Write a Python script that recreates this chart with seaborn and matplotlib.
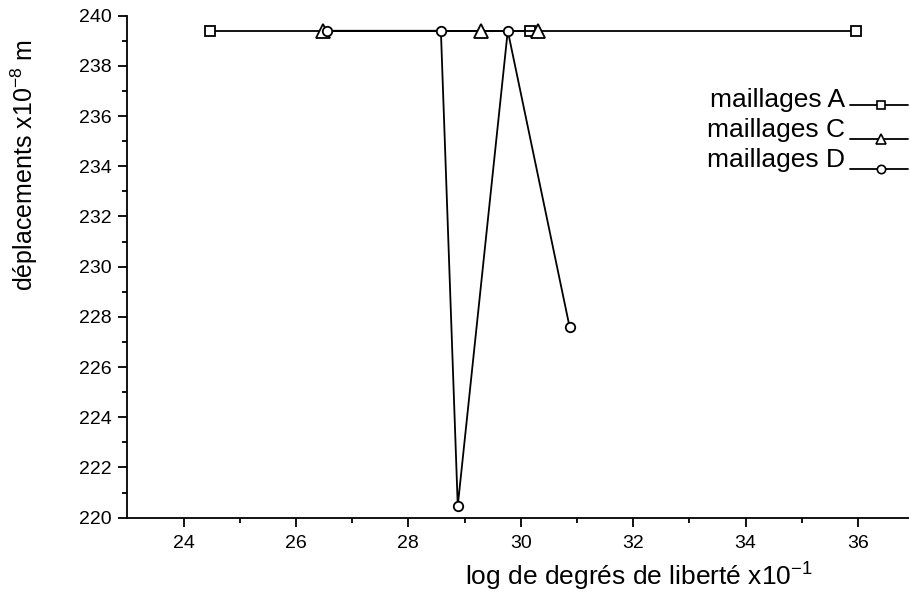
import matplotlib
matplotlib.use("Agg")
import matplotlib.pyplot as plt
import seaborn as sns
import pandas as pd
from matplotlib.lines import Line2D

# ---- data ----
xa = [24.48, 30.17, 35.97]
ya = [239.4, 239.4, 239.4]
xc = [26.48, 29.29, 30.30]
yc = [239.4, 239.4, 239.4]
xd = [26.56, 28.58, 28.88, 29.77, 30.87]
yd = [239.4, 239.4, 220.47, 239.4, 227.6]
labels = ["maillages A", "maillages C", "maillages D"]
markers = ["s", "^", "o"]
xticks = [24, 26, 28, 30, 32, 34, 36]
yticks = [220, 222, 224, 226, 228, 230, 232, 234, 236, 238, 240]

sns.set_theme(style="white")
plt.rcParams["font.family"] = ["Liberation Sans", "DejaVu Sans"]
plt.rcParams["mathtext.default"] = "regular"

fig = plt.figure(figsize=(9.09, 5.95), dpi=100)
W, H = 909, 595
ax = fig.add_axes([127.3 / W, 1 - 517.7 / H, (909 - 127.3) / W, (517.7 - 15.7) / H])

series = [(xa, ya), (xc, yc), (xd, yd)]
msizes = [6.5, 9.5, 6.8]
for (xs, ys), lab, mk, ms in zip(series, labels, markers, msizes):
    df = pd.DataFrame({"x": xs, "y": ys})
    sns.lineplot(data=df, x="x", y="y", sort=False, estimator=None, ax=ax,
                 color="black", lw=1.3, marker=mk, markersize=ms,
                 markerfacecolor="white", markeredgecolor="black",
                 markeredgewidth=1.3, clip_on=False, zorder=3)

ax.set_xlim(23, 23 + (909 - 127.3) / 56.2)
ax.set_ylim(220, 240)
ax.set_xticks(xticks)
ax.set_yticks(yticks)
ax.set_xticks([25, 27, 29, 31, 33, 35], minor=True)
ax.set_yticks([221, 223, 225, 227, 229, 231, 233, 235, 237, 239], minor=True)
ax.tick_params(axis="both", which="major", direction="out", length=6.5, width=1.3,
               labelsize=14, color="black", labelcolor="black",
               bottom=True, left=True)
ax.tick_params(axis="x", which="major", pad=6)
ax.tick_params(axis="y", which="major", pad=5)
ax.tick_params(axis="both", which="minor", direction="out", length=3.8, width=1.3,
               color="black", bottom=True, left=True)
for s in ["top", "right"]:
    ax.spines[s].set_visible(False)
for s in ["left", "bottom"]:
    ax.spines[s].set_color("black")
    ax.spines[s].set_linewidth(1.3)
ax.grid(False)

ax.set_xlabel("log de degrés de liberté x10$^{-1}$", fontsize=19, color="black")
ax.set_ylabel("déplacements x10$^{-8}$ m", fontsize=18, color="black")
ax.xaxis.set_label_coords((638.5 - 127.3) / (909 - 127.3), -(561 - 517.7) / 502)
ax.yaxis.set_label_coords(-(127.3 - 40) / (909 - 127.3), (517.7 - 165) / 502)

# legend (manual, Origin-style: text then line sample)
text_base = [107, 137, 167]
line_y = [105, 139, 169]
leg_ms = [5.5, 7, 6]
for lab, mk, ms, tb, ly in zip(labels, markers, leg_ms, text_base, line_y):
    fig.text(845 / W, 1 - tb / H, lab, ha="right", va="baseline",
             fontsize=19, color="black")
    fy = 1 - ly / H
    fig.add_artist(Line2D([850 / W, 908 / W], [fy, fy], color="black", lw=1.3))
    fig.add_artist(Line2D([881 / W], [fy], marker=mk, markersize=ms,
                          markerfacecolor="white", markeredgecolor="black",
                          markeredgewidth=1.2, lw=0))

fig.savefig("out.png", dpi=100)
